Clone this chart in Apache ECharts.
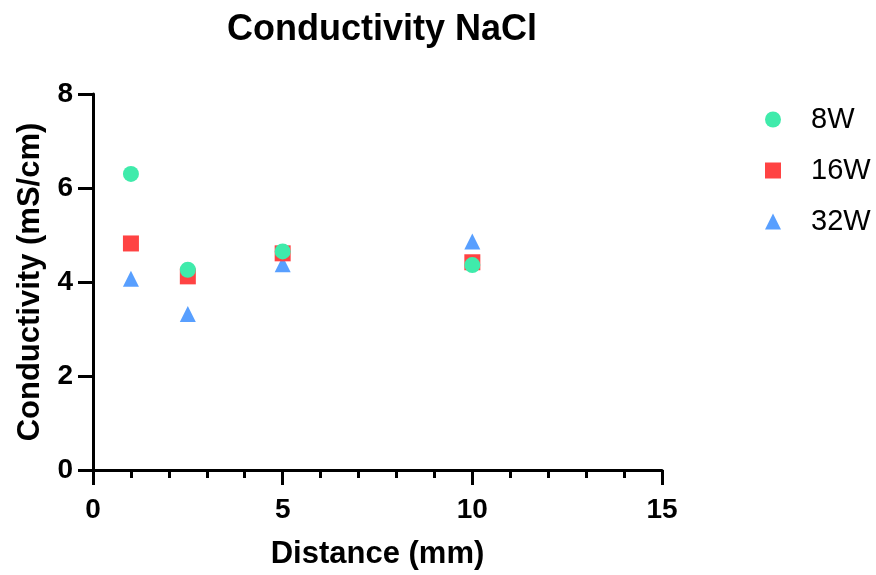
<!DOCTYPE html>
<html>
<head>
<meta charset="utf-8">
<script src="https://cdn.jsdelivr.net/npm/echarts@6/dist/echarts.min.js"></script>
<style>html,body{margin:0;padding:0;background:#fff;}#c{width:876px;height:575px;}</style>
</head>
<body>
<div id="c"></div>
<script>
const seriesNames = ['8W', '16W', '32W'];
const distances = [1, 2.5, 5, 10];
const values8W = [6.30, 4.26, 4.65, 4.36];
const values16W = [4.82, 4.12, 4.61, 4.42];
const values32W = [4.07, 3.32, 4.38, 4.86];
const xTicks = [0, 5, 10, 15];
const yTicks = [0, 2, 4, 6, 8];

const FONT = '"Liberation Sans", Arial, sans-serif';
const colors = ['#3FEBAB', '#FF4343', '#589FFF'];
const symbols = ['circle', 'rect', 'triangle'];
const allValues = [values8W, values16W, values32W];

const chart = echarts.init(document.getElementById('c'));
const series = seriesNames.map((name, i) => ({
  name: name,
  type: 'scatter',
  symbol: symbols[i],
  symbolSize: 16,
  z: 5 - i,
  itemStyle: { color: colors[i], opacity: 1 },
  data: distances.map((d, j) => [d, allValues[i][j]])
}));

chart.setOption({
  animation: false,
  backgroundColor: '#fff',
  title: {
    text: 'Conductivity NaCl',
    left: 377,
    textAlign: 'center',
    top: 7,
    textStyle: { fontFamily: FONT, fontSize: 36, fontWeight: 'bold', color: '#000' }
  },
  legend: {
    orient: 'vertical',
    left: 760,
    top: 100,
    itemWidth: 16,
    itemHeight: 16,
    itemGap: 22,
    data: seriesNames.map((n, i) => ({ name: n, icon: symbols[i] })),
    textStyle: { fontFamily: FONT, fontSize: 29, color: '#000', padding: [0, 0, 0, 25] }
  },
  grid: { left: 93, right: 214, top: 94, bottom: 104, containLabel: false },
  xAxis: {
    type: 'value',
    min: xTicks[0],
    max: xTicks[xTicks.length - 1],
    interval: 5,
    name: 'Distance (mm)',
    nameLocation: 'middle',
    nameGap: 69,
    nameTextStyle: { fontFamily: FONT, fontSize: 31, fontWeight: 'bold', color: '#000' },
    axisLine: { show: true, onZero: false, lineStyle: { color: '#000', width: 3 } },
    axisTick: { show: true, inside: false, length: 15, lineStyle: { color: '#000', width: 3 } },
    minorTick: { show: true, splitNumber: 5, length: 8, lineStyle: { color: '#000', width: 3 } },
    axisLabel: { margin: 26, fontFamily: FONT, fontSize: 28, fontWeight: 'bold', color: '#000' },
    splitLine: { show: false }
  },
  yAxis: {
    type: 'value',
    min: yTicks[0],
    max: yTicks[yTicks.length - 1],
    interval: 2,
    name: 'Conductivity (mS/cm)',
    nameLocation: 'middle',
    nameGap: 47,
    nameTextStyle: { fontFamily: FONT, fontSize: 31, fontWeight: 'bold', color: '#000' },
    axisLine: { show: true, onZero: false, lineStyle: { color: '#000', width: 3 } },
    axisTick: { show: true, inside: false, length: 15, lineStyle: { color: '#000', width: 3 } },
    axisLabel: { margin: 20, fontFamily: FONT, fontSize: 28, fontWeight: 'bold', color: '#000' },
    splitLine: { show: false }
  },
  series: series
});
</script>
</body>
</html>
